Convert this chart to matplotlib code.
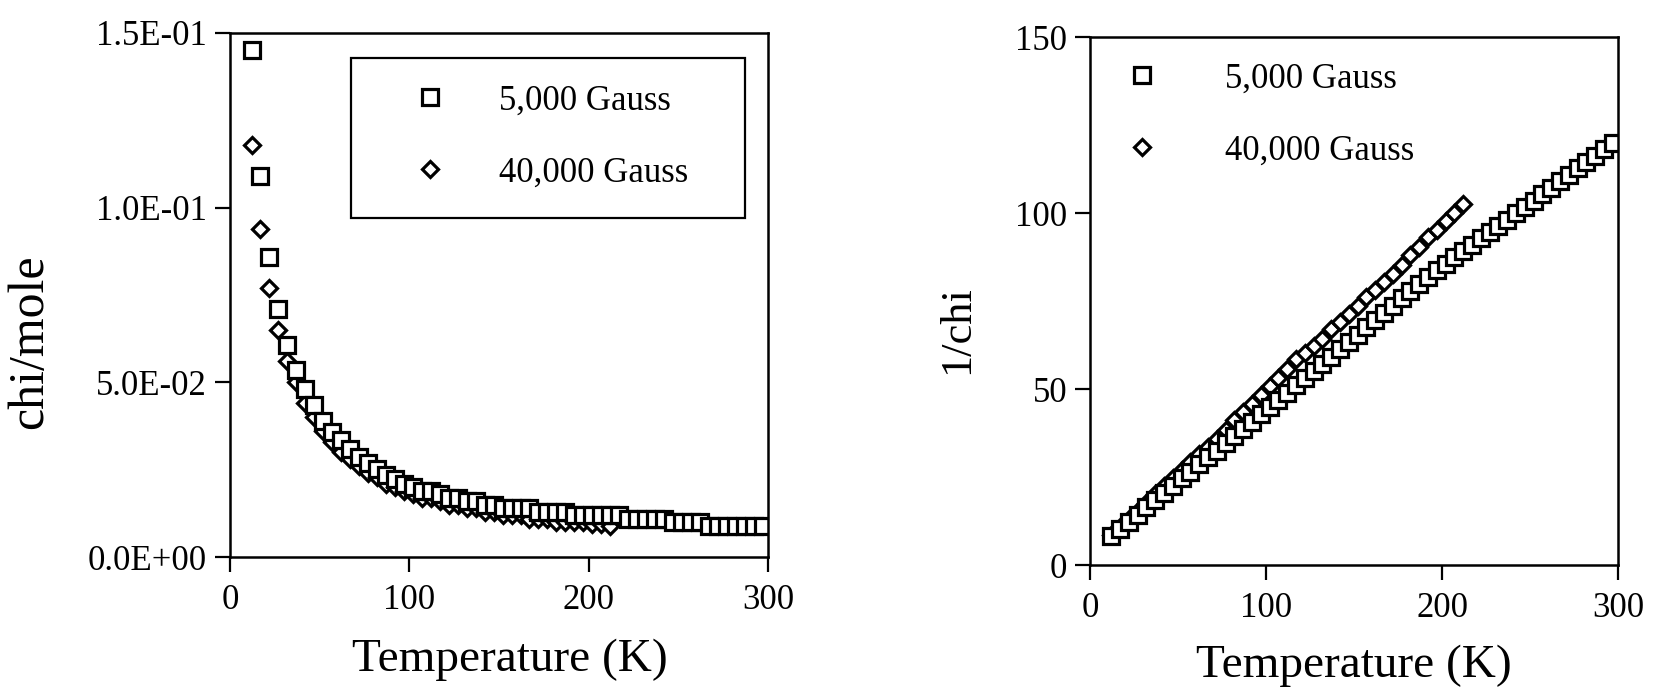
import matplotlib
matplotlib.use("Agg")
import matplotlib.pyplot as plt
from matplotlib.patches import Rectangle
from matplotlib.ticker import FuncFormatter

# temperatures (K) of the two runs
temp_5k = [12, 17, 22, 27, 32, 37, 42, 47, 52, 57, 62, 67, 72, 77, 82, 87, 92, 97,
           102, 107, 112, 117, 122, 127, 132, 137, 142, 147, 152, 157, 162, 167,
           172, 177, 182, 187, 192, 197, 202, 207, 212, 217, 222, 227, 232, 237,
           242, 247, 252, 257, 262, 267, 272, 277, 282, 287, 292, 297]
temp_40k = [12, 17, 22, 27, 32, 37, 42, 47, 52, 57, 62, 67, 72, 77, 82, 87, 92, 97,
            102, 107, 112, 117, 122, 127, 132, 137, 142, 147, 152, 157, 162, 167,
            172, 177, 182, 187, 192, 197, 202, 207, 212]

# chi/mole, left panel
chi_5k = [0.145, 0.109, 0.086, 0.071, 0.0607, 0.0536, 0.048, 0.0435, 0.039, 0.0358,
          0.0335, 0.0308, 0.0287, 0.0269, 0.0252, 0.0236, 0.0222, 0.021, 0.020, 0.019,
          0.019, 0.018, 0.017, 0.017, 0.016, 0.016, 0.015, 0.015, 0.014, 0.014,
          0.014, 0.014, 0.013, 0.013, 0.013, 0.013, 0.012, 0.012, 0.012, 0.012,
          0.012, 0.012, 0.011, 0.011, 0.011, 0.011, 0.011, 0.010, 0.010, 0.010,
          0.010, 0.009, 0.009, 0.009, 0.009, 0.009, 0.009, 0.009]
chi_40k = [0.118, 0.094, 0.077, 0.065, 0.056, 0.050, 0.044, 0.040, 0.036, 0.033,
           0.030, 0.028, 0.026, 0.024, 0.023, 0.021, 0.020, 0.019, 0.018, 0.017,
           0.017, 0.016, 0.015, 0.015, 0.014, 0.014, 0.013, 0.013, 0.012, 0.012,
           0.012, 0.011, 0.011, 0.011, 0.010, 0.010, 0.010, 0.010, 0.0095, 0.0095,
           0.009]

# 1/chi, right panel
inv_5k = [8.2, 10.2, 12.3, 14.3, 16.4, 18.5, 20.4, 22.5, 24.7, 26.4, 28.6, 30.6,
          32.5, 34.6, 36.6, 38.6, 40.7, 42.8, 44.9, 46.9, 49.0, 51.0, 53.2, 55.1,
          57.2, 59.2, 61.4, 63.3, 65.4, 67.5, 69.6, 71.6, 73.6, 75.8, 77.8, 79.9,
          81.9, 83.7, 85.6, 87.4, 89.2, 91.0, 92.8, 94.6, 96.3, 98.1, 99.9, 101.7,
          103.5, 105.3, 107.2, 109.0, 110.9, 112.7, 114.5, 116.3, 118.2, 120.0]
inv_40k = [8.5, 10.7, 13.0, 15.4, 17.7, 20.1, 22.4, 24.6, 27.0, 29.3, 31.4, 33.6,
           35.9, 38.3, 41.2, 43.4, 45.8, 48.3, 50.8, 53.0, 55.6, 58.4, 60.2, 62.1,
           64.3, 67.0, 69.1, 71.4, 73.7, 76.0, 78.2, 80.4, 82.6, 85.2, 88.0, 90.3,
           93.2, 95.3, 97.6, 100.0, 102.6]

labels = ["5,000 Gauss", "40,000 Gauss"]
x_ticks = [0, 100, 200, 300]
chi_ticks = [0, 0.05, 0.10, 0.15]
inv_ticks = [0, 50, 100, 150]

plt.rcParams["font.family"] = ["Liberation Serif", "DejaVu Serif"]

W, H = 1653, 691
fig = plt.figure(figsize=(W / 100, H / 100), dpi=100)
ax1 = fig.add_axes([230 / W, (H - 557) / H, 538 / W, 524 / H])
ax2 = fig.add_axes([1090 / W, (H - 565) / H, 528 / W, 528 / H])

sq = dict(marker="s", ms=11.5, mew=2.3, mfc="white", mec="black", ls="none")
di = dict(marker="D", ms=8.0, mew=2.3, mfc="white", mec="black", ls="none")

# diamonds first so the squares sit on top, as in the original
h_di1, = ax1.plot(temp_40k, chi_40k, label=labels[1], **di)
h_sq1, = ax1.plot(temp_5k, chi_5k, label=labels[0], **sq)
h_di2, = ax2.plot(temp_40k, inv_40k, label=labels[1], **di)
h_sq2, = ax2.plot(temp_5k, inv_5k, label=labels[0], **sq)

for ax in (ax1, ax2):
    ax.set_xlim(0, 300)
    ax.set_xticks(x_ticks)
    for sp in ax.spines.values():
        sp.set_linewidth(1.8)
    ax.tick_params(direction="out", length=10.5, width=1.6, labelsize=25)
    ax.tick_params(axis="x", pad=9)
    ax.tick_params(axis="y", pad=6)
    ax.set_xlabel("Temperature (K)", fontsize=34, va="center")

ax1.set_ylim(0, 0.15)
ax1.set_yticks(chi_ticks)
ax1.yaxis.set_major_formatter(FuncFormatter(lambda v, p: f"{v:.1E}"))
ax1.set_ylabel("chi/mole", fontsize=36, va="center")
ax1.xaxis.set_label_coords(0.52, -0.197)
ax1.yaxis.set_label_coords(-0.372, 0.41)

ax2.set_ylim(0, 150)
ax2.set_yticks(inv_ticks)
ax2.set_ylabel("1/chi", fontsize=32, va="center")
ax2.xaxis.set_label_coords(0.50, -0.19)
ax2.yaxis.set_label_coords(-0.2525, 0.445)

# legends: entries placed without a frame, the left one gets a drawn box
ax1.legend([h_sq1, h_di1], labels, loc="upper left", bbox_to_anchor=(0.339, 0.902),
           frameon=False, fontsize=25, handlelength=1.0, handletextpad=1.49,
           labelspacing=1.13, borderpad=0, borderaxespad=0)
ax1.add_patch(Rectangle((0.225, 0.647), 0.732, 0.305, transform=ax1.transAxes,
                        fill=False, lw=1.6, ec="black", zorder=5))

ax2.legend([h_sq2, h_di2], labels, loc="upper left", bbox_to_anchor=(0.0655, 0.952),
           frameon=False, fontsize=25, handlelength=1.0, handletextpad=1.89,
           labelspacing=1.13, borderpad=0, borderaxespad=0)

fig.savefig("out.png", dpi=100)
